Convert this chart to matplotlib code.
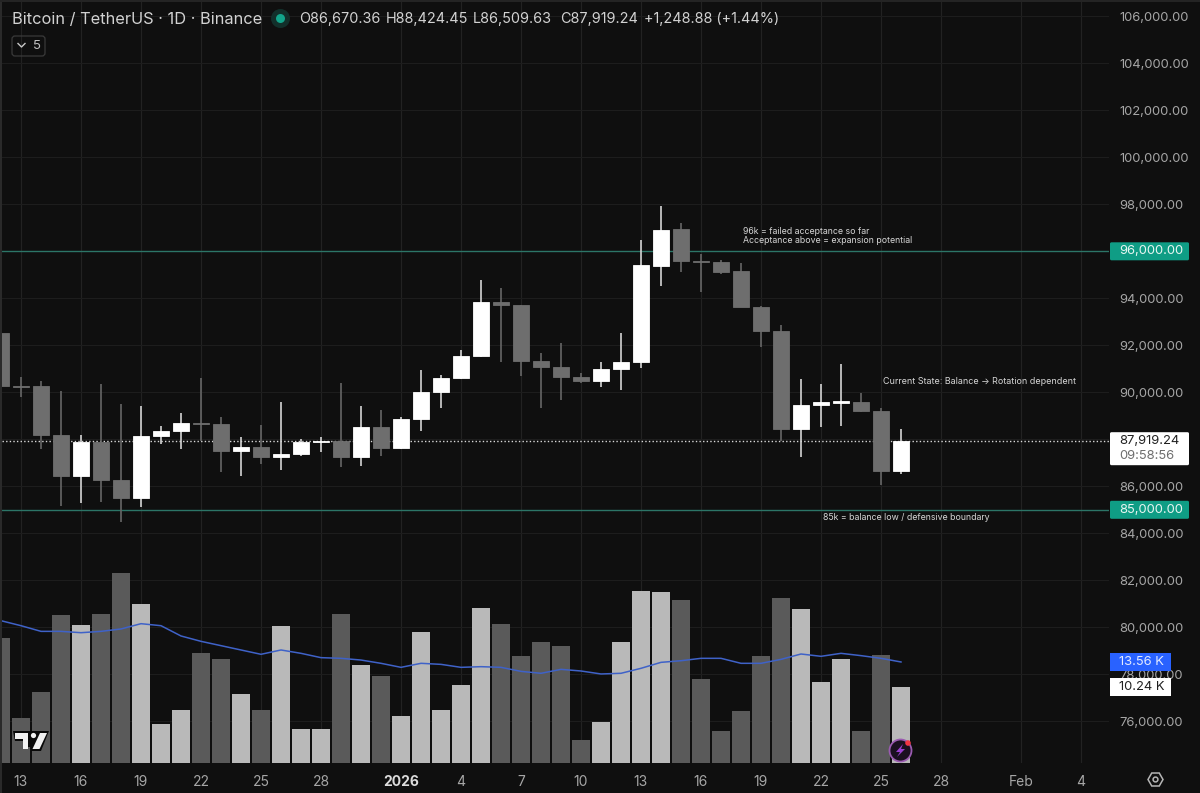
import numpy as np
import matplotlib
matplotlib.use("Agg")
import matplotlib.pyplot as plt
from matplotlib.patches import FancyBboxPatch, Rectangle, Circle, Polygon

plt.rcParams['font.family'] = ['Inter', 'DejaVu Sans']

# ---- data (days are offsets from 1 Jan 2026) ----
days = list(range(-20, 26))
opens = [92516, 90275, 90247, 88176, 86418, 87864, 86276, 85510, 88120, 88332, 88680, 88644, 87482, 87680, 87226, 87368, 87870, 87935, 87226, 88503,
         87637, 88852, 90002, 90597, 91533, 93845, 93717, 91335, 91094, 90640, 90498, 91009, 91278, 95390, 96936, 95603, 95532, 95149, 93646, 92625,
         88428, 89449, 89562, 89590, 89222, 86670.36]
highs = [92600, 90644, 90488, 90076, 88190, 90360, 89495, 89424, 88573, 89112, 90601, 88942, 88077, 88616, 89580, 88006, 88091, 90417, 89424, 89226,
         88937, 90966, 90739, 91803, 94780, 94426, 93730, 91661, 92086, 90824, 91278, 92512, 96468, 97914, 97204, 95872, 95617, 95518, 93660, 92866,
         90569, 90356, 91221, 89973, 89321, 88424.45]
lows = [90247, 89793, 87595, 85170, 85284, 85312, 84461, 85113, 87793, 87595, 87907, 86617, 86418, 86957, 86673, 87269, 87453, 86815, 86858, 87269,
        87580, 88354, 89321, 90560, 91500, 91278, 90697, 89349, 89690, 90413, 90243, 90115, 91051, 94539, 95135, 94284, 95022, 93620, 91916, 87946,
        87265, 88513, 88584, 89179, 86074, 86509.63]
closes = [90247, 90240, 88176, 86418, 87864, 86248, 85510, 88148, 88361, 88673, 88640, 87482, 87680, 87226, 87382, 87879, 87940, 87226, 88517, 87637,
          88852, 90002, 90626, 91533, 93845, 93717, 91335, 91094, 90640, 90498, 91009, 91278, 95404, 96922, 95603, 95540, 95135, 93646, 92625, 88428,
          89449, 89576, 89620, 89222, 86655, 87919.24]
volumes = [16.78, 6.0, 9.48, 19.86, 18.52, 19.95, 25.5, 21.34, 5.19, 7.16, 14.76, 14.0, 9.22, 7.16, 18.43, 4.52, 4.52, 19.95, 13.15, 11.68,
           6.31, 17.54, 7.11, 10.51, 20.76, 18.66, 14.32, 16.2, 15.7, 3.13, 5.5, 16.29, 23.13, 23.0, 21.83, 11.23, 4.3, 6.93, 14.41, 22.1,
           20.67, 10.87, 13.96, 4.3, 14.45, 10.24]
vol_ma = [19.10, 18.43, 17.67, 17.67, 17.49, 17.67, 17.99, 18.70, 18.43, 17.05, 16.33, 15.75, 15.17, 14.59, 15.17, 14.72, 14.14, 14.05, 13.82, 13.38,
          12.84, 13.38, 13.24, 12.84, 12.93, 12.84, 12.30, 12.04, 12.57, 12.35, 11.95, 12.04, 12.71, 13.51, 13.73, 14.05, 14.05, 13.38, 13.38, 13.91,
          14.63, 14.32, 14.72, 14.41, 14.05, 13.56]
level_prices = [96000, 85000]
price_ticks = list(range(76000, 106001, 2000))
date_ticks = [-19, -16, -13, -10, -7, -4, 0, 3, 6, 9, 12, 15, 18, 21, 24, 27, 31, 34]
date_labels = ['13', '16', '19', '22', '25', '28', '2026', '4', '7', '10', '13', '16', '19', '22', '25', '28', 'Feb', '4']

BG = '#0f0f0f'
W, H = 1200, 793
PRICE_FS = 9.35
fig = plt.figure(figsize=(W / 100, H / 100), dpi=100, facecolor=BG)

L, R, T, B = 2, 1109, 2, 763
ax = fig.add_axes([L / W, 1 - B / H, (R - L) / W, (B - T) / H], facecolor=BG)
vax = ax.twinx()   # volume pane shares the x axis
ax.set_xlim(-19.95, 35.4)
ax.set_ylim(74225, 106609)
for s in ax.spines.values():
    s.set_visible(False)

ax.yaxis.tick_right()
ax.set_yticks(price_ticks)
ax.set_yticklabels([f'{p:,.2f}' for p in price_ticks])
ax.set_xticks(date_ticks)
ax.set_xticklabels(date_labels)
ax.tick_params(axis='y', length=0, labelsize=PRICE_FS, labelcolor='#a6a6a6', pad=7.2)
ax.tick_params(axis='x', length=0, labelsize=10, labelcolor='#a6a6a6', pad=9)
for lab in ax.get_xticklabels():
    if lab.get_text() == '2026':
        lab.set_fontweight('bold')
        lab.set_color('#dcdcdc')
ax.xaxis.grid(True, color='#222222', lw=0.8)
ax.yaxis.grid(True, color='#1d1d1d', lw=0.8)
ax.set_axisbelow(True)

UP, DOWN = '#ffffff', '#6e6e6e'
WICK_UP, WICK_DOWN = '#d4d4d4', '#666666'
up = [c >= o for o, c in zip(opens, closes)]
body_col = [UP if u else DOWN for u in up]
wick_col = [WICK_UP if u else WICK_DOWN for u in up]

for p in level_prices:
    ax.axhline(p, color='#2c7567', lw=1.0, zorder=2)
ax.axhline(closes[-1], color='#d8d8d8', lw=1.0, ls=(0, (1, 1.6)), zorder=2)

ax.vlines(days, lows, highs, colors=wick_col, lw=1.2, zorder=3)
ax.bar(days, np.array(closes) - np.array(opens), bottom=opens, width=0.78,
       color=body_col, edgecolor=body_col, lw=0.6, zorder=4)

vax.set_ylim(0, (B - T) / 7.45)
vax.set_yticks([])
vax.patch.set_visible(False)
for s in vax.spines.values():
    s.set_visible(False)
vax.bar(days, volumes, width=0.94, color=['#b9b9b9' if u else '#5a5a5a' for u in up], zorder=2)
vax.plot(days, vol_ma, color='#3f62c8', lw=1.1, zorder=3)

# overlay in pixel coordinates for chart furniture and labels
ov = fig.add_axes([0, 0, 1, 1], facecolor='none')
ov.set_xlim(0, W)
ov.set_ylim(H, 0)
ov.axis('off')


def py(price):
    return H - ax.transData.transform((0, price))[1]


def vy(k):
    return H - vax.transData.transform((0, k))[1]


def box(x0, y0, x1, y1, color):
    ov.add_patch(FancyBboxPatch((x0 + 1, y0 + 1), x1 - x0 - 2, y1 - y0 - 2,
                                boxstyle='round,pad=1,rounding_size=1.5', fc=color, ec='none', zorder=5))


ov.add_patch(Rectangle((0, 0), 2, H, fc='#2a2a2a', ec='none'))
ov.add_patch(Rectangle((0, 0), W, 1.5, fc='#242424', ec='none'))

for p in level_prices:
    y = py(p)
    box(1110, y - 9, 1189, y + 9, '#0f9d85')
    ov.text(1119, y, f'{p:,.2f}', color='#e8f6f2', fontsize=PRICE_FS, va='center', zorder=6)

y = py(closes[-1])
box(1110, y - 9, 1189, y + 24, '#ffffff')
ov.text(1119, y, f'{closes[-1]:,.2f}', color='#202020', fontsize=PRICE_FS, va='center', zorder=6)
ov.text(1119, y + 14.5, '09:58:56', color='#6e6e6e', fontsize=PRICE_FS, va='center', zorder=6)

y = vy(vol_ma[-1])
ov.add_patch(Rectangle((1110, y - 9), 61, 18, fc='#2962ff', ec='none', zorder=5))
ov.text(1119, y, f'{vol_ma[-1]:.2f} K', color='#e4ebff', fontsize=PRICE_FS, va='center', zorder=6)
y = vy(volumes[-1])
ov.add_patch(Rectangle((1110, y - 9), 61, 18, fc='#ffffff', ec='none', zorder=5))
ov.text(1119, y, f'{volumes[-1]:.2f} K', color='#202020', fontsize=PRICE_FS, va='center', zorder=6)

# header
ov.text(12, 19, 'Bitcoin / TetherUS · 1D · Binance', color='#d2d2d2', fontsize=11.8, va='center')
ov.add_patch(Circle((280.5, 18.5), 9.5, fc='#12302b', ec='none'))
ov.add_patch(Circle((280.5, 18.5), 4.5, fc='#12a58b', ec='none'))
for x, t in [(299, 'O86,670.36'), (386, 'H88,424.45'), (473, 'L86,509.63'), (560, 'C87,919.24'),
             (644, '+1,248.88 (+1.44%)')]:
    ov.text(x, 19, t, color='#d2d2d2', fontsize=10.4, va='center')

ov.add_patch(FancyBboxPatch((12, 36), 33, 20, boxstyle='round,pad=0,rounding_size=3', fc='none', ec='#3a3a3a', lw=0.9))
ov.plot([18, 21.5, 25], [43.5, 47, 43.5], color='#c8c8c8', lw=1.0)
ov.text(36.5, 46, '5', color='#c0c0c0', fontsize=9.5, va='center', ha='center')

# annotations
for x, y, t, fs in [(743, 231, '96k = failed acceptance so far', 6.3),
                    (743, 240.5, 'Acceptance above = expansion potential', 6.3),
                    (883, 382, 'Current State: Balance → Rotation dependent', 6.45),
                    (823, 518, '85k = balance low / defensive boundary', 6.3)]:
    ov.text(x, y, t, color='#d6d6d6', fontsize=fs, va='center')

# TradingView mark
ov.add_patch(Polygon([(13, 731), (49, 731), (41, 751), (31, 751), (31, 747), (24, 747), (24, 741), (15, 741)],
                     closed=True, fc='#0a0a0a', ec='none', zorder=6))
ov.add_patch(Polygon([(14.5, 733), (28, 733), (28, 749), (23, 749), (23, 739), (14.5, 739)], closed=True, fc='#f2f2f2', ec='none', zorder=7))
ov.add_patch(Circle((33.5, 735.5), 2.6, fc='#f2f2f2', ec='none', zorder=7))
ov.add_patch(Polygon([(40, 733), (47, 733), (39.5, 749), (32.5, 749)], closed=True, fc='#f2f2f2', ec='none', zorder=7))

# flash icon
ov.add_patch(Circle((900.5, 750.5), 11, fc='#1b1020', ec='#9a5bb0', lw=1.3, zorder=6))
ov.add_patch(Polygon([(903, 744), (896, 752), (900, 752), (897, 757), (905, 749), (901, 749)],
                     closed=True, fc='#9a3fd0', ec='none', zorder=7))
ov.add_patch(Circle((908, 743), 2.8, fc='#f23645', ec='none', zorder=7))

# settings hexagon
ang = np.deg2rad(np.arange(0, 360, 60))
ov.add_patch(Polygon(np.column_stack([1155.5 + 7.5 * np.cos(ang), 779.5 + 7.5 * np.sin(ang)]), closed=True,
                     fc='none', ec='#b5b5b5', lw=1.1))
ov.add_patch(Circle((1155.5, 779.5), 2.4, fc='none', ec='#b5b5b5', lw=1.1))

fig.savefig('out.png', dpi=100, facecolor=BG)
